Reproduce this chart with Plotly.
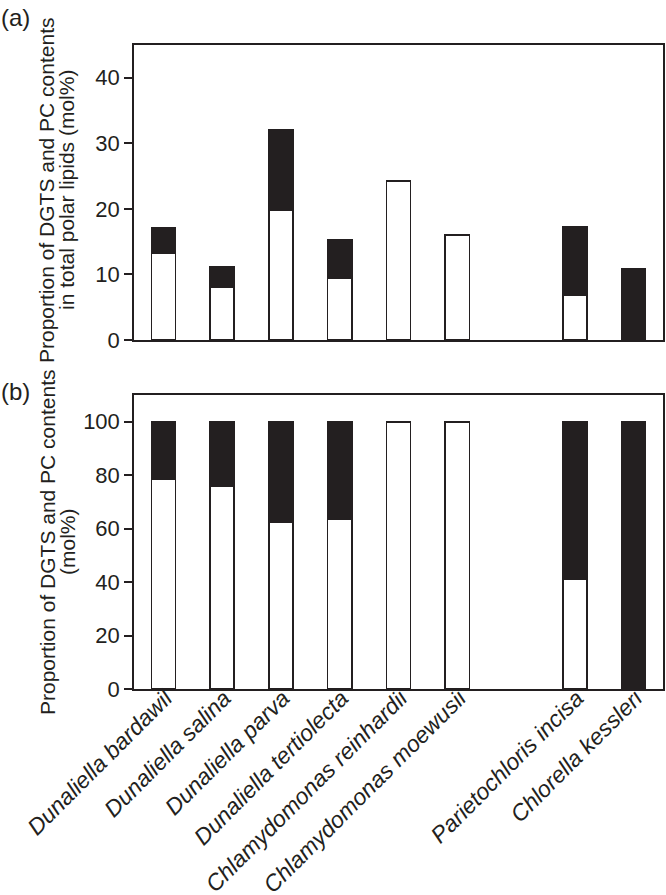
import plotly.graph_objects as go

species = ["Dunaliella bardawil", "Dunaliella salina", "Dunaliella parva",
           "Dunaliella tertiolecta", "Chlamydomonas reinhardii",
           "Chlamydomonas moewusii", " ", "Parietochloris incisa",
           "Chlorella kessleri"]

# (a) mol% of total polar lipids
dgts_a = [13.3, 8.1, 19.8, 9.4, 24.3, 16.0, None, 6.9, 0.0]
pc_a = [3.8, 3.1, 12.3, 5.9, 0.0, 0.0, None, 10.3, 10.9]

# (b) relative proportion (mol%)
dgts_b = [78.4, 76.0, 62.4, 63.4, 100.0, 100.0, None, 41.0, 0.0]
pc_b = [21.6, 24.0, 37.6, 36.6, 0.0, 0.0, None, 59.0, 100.0]

ytick_a = [0, 10, 20, 30, 40]
ytick_b = [0, 20, 40, 60, 80, 100]

INK = "#231f20"
FONT = "Liberation Sans, Arial, Helvetica, sans-serif"

fig = go.Figure()
for y, col, ax in [(dgts_a, "white", "y"), (pc_a, INK, "y"),
                   (dgts_b, "white", "y2"), (pc_b, INK, "y2")]:
    fig.add_trace(go.Bar(
        x=species, y=y, yaxis=ax, xaxis="x" if ax == "y" else "x2",
        width=0.41, marker=dict(color=col, line=dict(color=INK, width=1.6)),
        showlegend=False, hoverinfo="skip"))

W, H = 666, 895
L, R, T, B = 134, 3, 45, 206
pw, ph = W - L - R, H - T - B

def px(xp):
    return (xp - L) / pw

def py(yp):
    return (H - B - yp) / ph

axis_common = dict(showline=True, linecolor=INK, linewidth=1.5, mirror=True,
                   showgrid=False, zeroline=False)

fig.update_layout(
    width=W, height=H, barmode="stack",
    margin=dict(l=L, r=R, t=T, b=B, autoexpand=False),
    paper_bgcolor="white", plot_bgcolor="white",
    font=dict(family=FONT, color=INK, size=22),
    xaxis=dict(**axis_common, domain=[0, 1], anchor="y", range=[-0.5, 8.5],
               showticklabels=False, ticks="",
               categoryorder="array", categoryarray=species),
    yaxis=dict(**axis_common, domain=[py(340), 1], anchor="x", range=[0, 45],
               tickvals=ytick_a, ticks="outside", ticklen=8, tickwidth=1.5,
               tickcolor=INK, tickfont=dict(size=22)),
    xaxis2=dict(**axis_common, domain=[0, 1], anchor="y2", range=[-0.5, 8.5],
                ticks="", tickangle=-45, automargin=False,
                ticklabelstandoff=-15, ticklabelshift=2,
                tickfont=dict(size=23, family=FONT, style="italic"),
                categoryorder="array", categoryarray=species),
    yaxis2=dict(**axis_common, domain=[0, py(395)], anchor="x2", range=[0, 110],
                tickvals=ytick_b, ticks="outside", ticklen=8, tickwidth=1.5,
                tickcolor=INK, tickfont=dict(size=22)),
)

ann = [
    ("(a)", 15, 17, 0, 24),
    ("(b)", 15, 391, 0, 24),
    ("Proportion of DGTS and PC contents", 47, 190, -90, 21),
    ("in total polar lipids (mol%)", 67, 190, -90, 21),
    ("Proportion of DGTS and PC contents", 47, 542, -90, 21),
    ("(mol%)", 67, 542, -90, 21),
]
for text, x, y, ang, size in ann:
    fig.add_annotation(text=text, xref="paper", yref="paper", x=px(x), y=py(y),
                       xanchor="center", yanchor="middle", textangle=ang,
                       showarrow=False, font=dict(size=size, family=FONT, color=INK))

fig.write_html("out.html", config={"displayModeBar": False},
               post_script="document.body.style.margin='0';"
                           "document.body.style.overflow='hidden';")
